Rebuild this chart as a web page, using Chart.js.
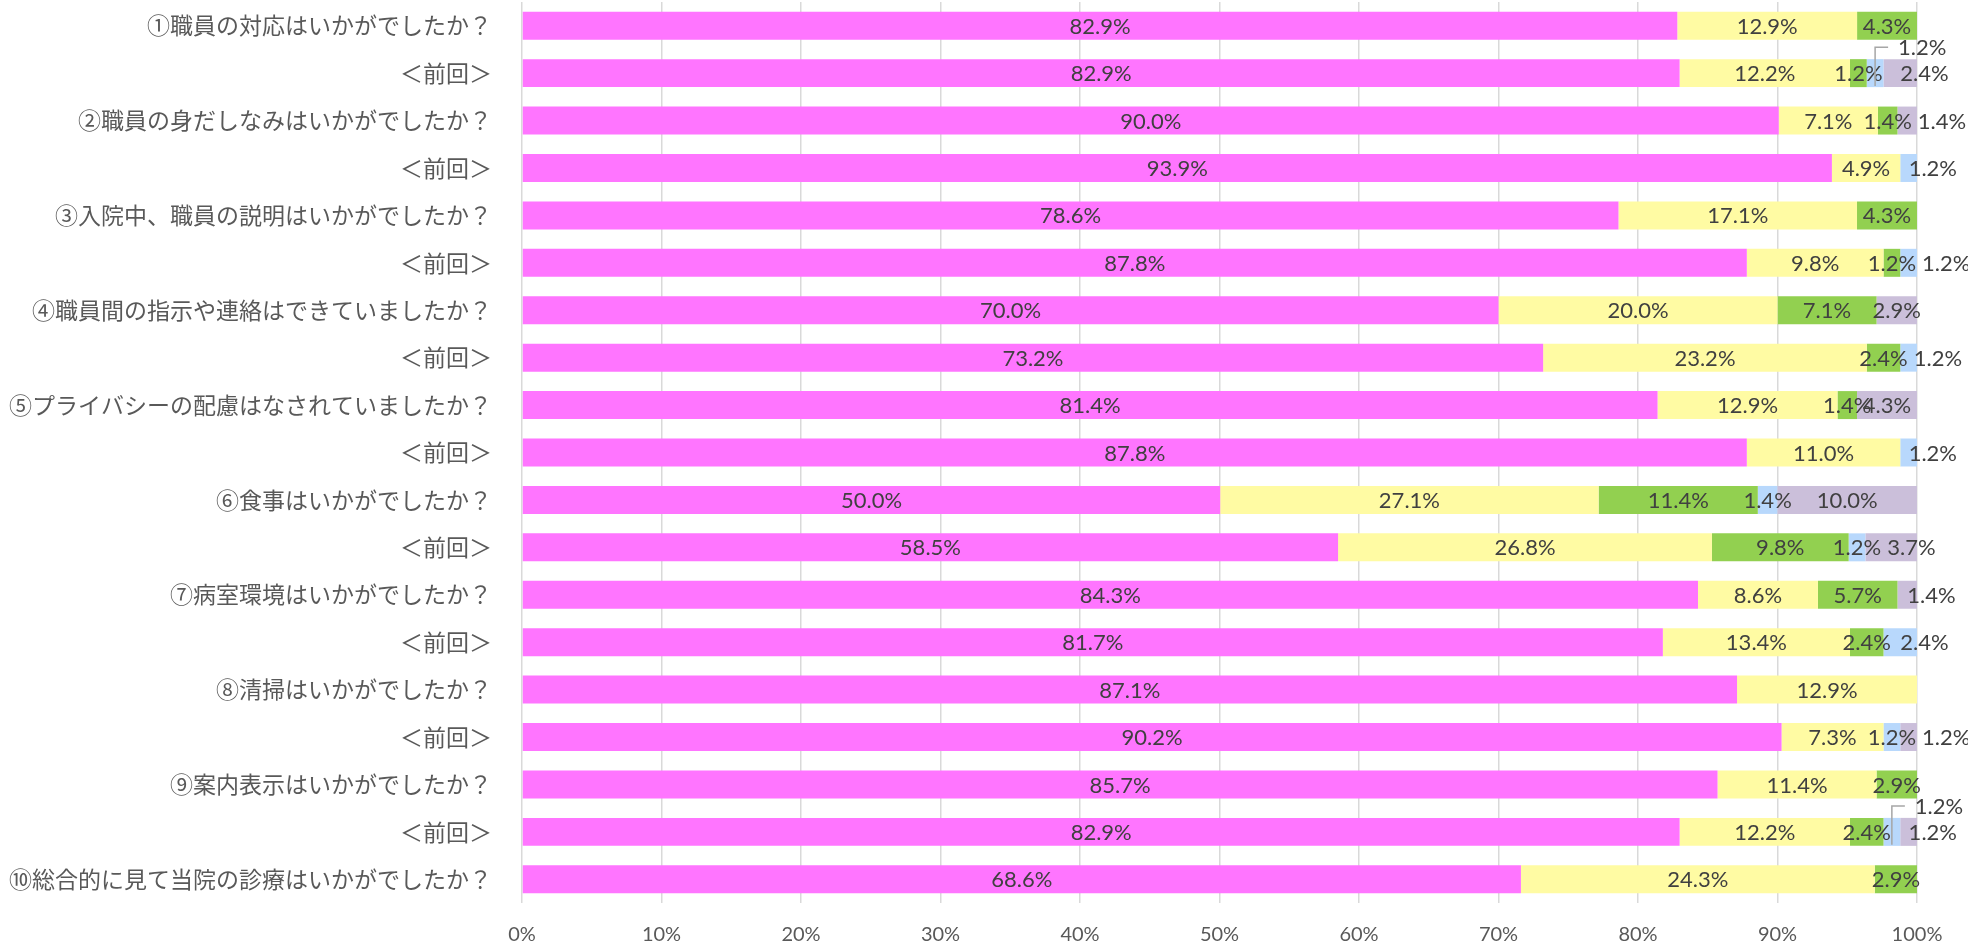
<!DOCTYPE html>
<html lang="ja">
<head>
<meta charset="utf-8">
<title>アンケート結果</title>
<script src="https://cdn.jsdelivr.net/npm/chart.js@4.4.1/dist/chart.umd.min.js"></script>
<style>
  html, body { margin: 0; padding: 0; background: #fff; }
  #wrap { width: 1968px; height: 943px; position: relative; }
</style>
</head>
<body>
<div id="wrap"><canvas id="BarCvs"></canvas></div>
<script>
// 質問（前回と交互）
const categories = [
  '①職員の対応はいかがでしたか？', '＜前回＞',
  '②職員の身だしなみはいかがでしたか？', '＜前回＞',
  '③入院中、職員の説明はいかがでしたか？', '＜前回＞',
  '④職員間の指示や連絡はできていましたか？', '＜前回＞',
  '⑤プライバシーの配慮はなされていましたか？', '＜前回＞',
  '⑥食事はいかがでしたか？', '＜前回＞',
  '⑦病室環境はいかがでしたか？', '＜前回＞',
  '⑧清掃はいかがでしたか？', '＜前回＞',
  '⑨案内表示はいかがでしたか？', '＜前回＞',
  '⑩総合的に見て当院の診療はいかがでしたか？'
];

// 回答の割合(%) 表示される値そのまま
const seriesNames = ['満足', 'やや満足', '普通', 'やや不満', '不満'];
const satisfied   = [82.9, 82.9, 90.0, 93.9, 78.6, 87.8, 70.0, 73.2, 81.4, 87.8, 50.0, 58.5, 84.3, 81.7, 87.1, 90.2, 85.7, 82.9, 68.6];
const rather      = [12.9, 12.2, 7.1, 4.9, 17.1, 9.8, 20.0, 23.2, 12.9, 11.0, 27.1, 26.8, 8.6, 13.4, 12.9, 7.3, 11.4, 12.2, 24.3];
const neutral     = [4.3, 1.2, 1.4, 0, 4.3, 1.2, 7.1, 2.4, 1.4, 0, 11.4, 9.8, 5.7, 2.4, 0, 0, 2.9, 2.4, 2.9];
const ratherBad   = [0, 1.2, 0, 1.2, 0, 1.2, 0, 1.2, 0, 1.2, 1.4, 1.2, 0, 2.4, 0, 1.2, 0, 1.2, 0];
const bad         = [0, 2.4, 1.4, 0, 0, 0, 2.9, 0, 4.3, 0, 10.0, 3.7, 1.4, 0, 0, 1.2, 0, 1.2, 0];

const xTicks = [0, 10, 20, 30, 40, 50, 60, 70, 80, 90, 100];

const seriesValues = [satisfied, rather, neutral, ratherBad, bad];
const colors = ['#FF75FF', '#FFFBA3', '#92D050', '#B8D8FC', '#CBBFDA'];

// 100%積み上げ（合計で割って描く、ラベルは元の値）
const totals = categories.map((c, i) => seriesValues.reduce((s, arr) => s + arr[i], 0));
const datasets = seriesValues.map((arr, d) => ({
  label: seriesNames[d],
  data: arr.map((v, i) => v / totals[i] * 100),
  backgroundColor: colors[d],
  borderWidth: 0,
  barPercentage: 0.59,
  categoryPercentage: 1.0
}));

// 棒の中のラベル
const segLabels = {
  id: 'segLabels',
  afterDatasetsDraw(chart) {
    const ctx = chart.ctx;
    ctx.save();
    ctx.font = '22px Lato';
    ctx.fillStyle = '#404040';
    ctx.textBaseline = 'middle';
    ctx.textAlign = 'left';
    for (let i = 0; i < categories.length; i++) {
      const segs = [];
      seriesValues.forEach((arr, d) => {
        const v = arr[i];
        if (!v) return;
        const bar = chart.getDatasetMeta(d).data[i];
        segs.push({
          v: v,
          left: Math.min(bar.base, bar.x),
          right: Math.max(bar.base, bar.x),
          y: bar.y,
          h: bar.height
        });
      });
      let lastRight = -Infinity; // 直前の（棒の上の）ラベルの右端
      segs.forEach((s, k) => {
        const text = s.v.toFixed(1) + '%';
        const tw = ctx.measureText(text).width;
        const cx = (s.left + s.right) / 2;
        const w = s.right - s.left;
        const prev = segs[k - 1], next = segs[k + 1];
        if (prev && next && s.v < 3 && prev.v < 3 && next.v < 3) {
          // 引き出し線付き
          const top = s.y - s.h / 2;
          const ly = top - 12;
          ctx.save();
          ctx.strokeStyle = '#A6A6A6';
          ctx.lineWidth = 1.5;
          ctx.beginPath();
          ctx.moveTo(cx, s.y + s.h / 2 - 1);
          ctx.lineTo(cx, ly);
          ctx.lineTo(cx + 13, ly);
          ctx.stroke();
          ctx.restore();
          ctx.fillText(text, cx + 23, ly + 1);
          return;
        }
        let x0 = cx - tw / 2;
        if (!next) {
          if (w < tw * 0.75) x0 = cx;
          if (w < tw * 1.1 && x0 < lastRight + 6) x0 = lastRight + 6;
        }
        ctx.fillText(text, x0, s.y + 1);
        lastRight = x0 + tw;
      });
    }
    ctx.restore();
  }
};

function draw() {
  const canvas = document.getElementById('BarCvs');
  const barCtx = canvas.getContext('2d');
  new Chart(barCtx, {
    type: 'bar',
    data: { labels: categories, datasets: datasets },
    options: {
      indexAxis: 'y',
      responsive: true,
      maintainAspectRatio: false,
      animation: false,
      layout: { padding: { top: 2, right: 51, bottom: 0, left: 0 } },
      plugins: {
        legend: { display: false },
        tooltip: { enabled: false }
      },
      scales: {
        x: {
          stacked: true,
          min: 0,
          max: 100,
          afterBuildTicks(scale) {
            scale.ticks = xTicks.map(v => ({ value: v }));
          },
          afterFit(scale) {
            scale.height = 40;
            scale.paddingLeft = 0;
            scale.paddingRight = 0;
          },
          grid: { color: '#D9D9D9', lineWidth: 1.5, drawTicks: false },
          border: { display: false },
          ticks: {
            padding: 20,
            color: '#595959',
            font: { family: 'Lato', size: 20 },
            callback: v => v + '%'
          }
        },
        y: {
          stacked: true,
          afterFit(scale) {
            scale.width = 522;
            scale.paddingTop = 0;
            scale.paddingBottom = 0;
          },
          grid: { display: false, drawTicks: false },
          border: { display: false },
          ticks: {
            padding: 30,
            autoSkip: false,
            color: '#595959',
            font: { family: '"Noto Sans CJK JP", sans-serif', size: 23 }
          }
        }
      }
    },
    plugins: [segLabels]
  });
}

Promise.all([
  document.fonts.load('22px Lato'),
  document.fonts.load('23px "Noto Sans CJK JP"', '職員')
]).then(draw, draw);
</script>
</body>
</html>
